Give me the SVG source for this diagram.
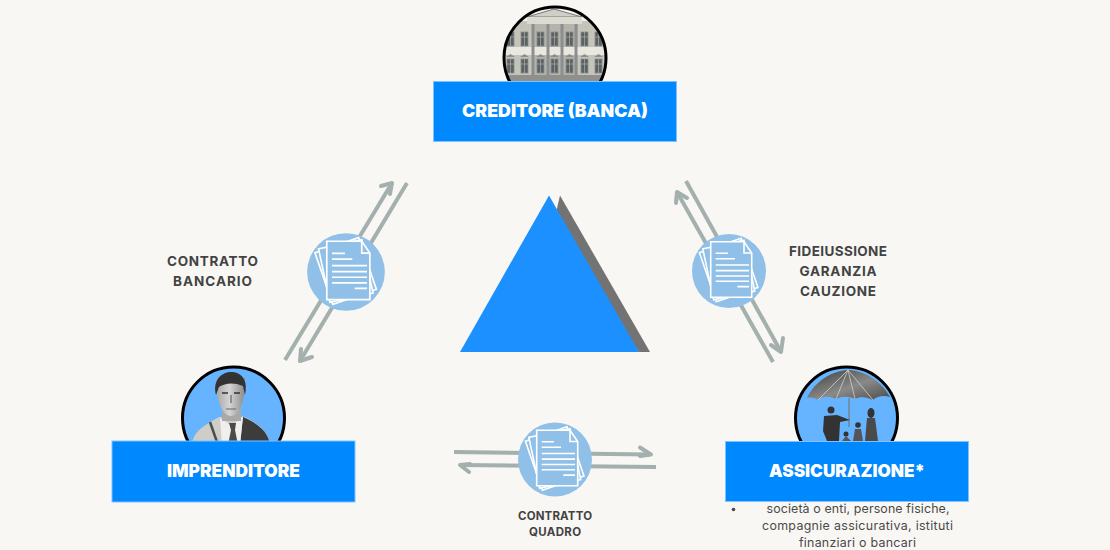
<svg xmlns="http://www.w3.org/2000/svg" width="1110" height="550" viewBox="0 0 1110 550">
<style>
.box{fill:#0088ff;stroke:#7fc2ff;stroke-width:1}
.boxt{font:900 18px Inter,"Liberation Sans",sans-serif;fill:#fff;text-anchor:middle}
.lab{font:700 13.5px Inter,"Liberation Sans",sans-serif;fill:#434343;text-anchor:middle}
.labs{font:700 11.5px Inter,"Liberation Sans",sans-serif;fill:#434343;text-anchor:middle}
.note{font:400 12.4px Inter,"Liberation Sans",sans-serif;fill:#4a4a4a;text-anchor:middle}
.ring{fill:none;stroke:#000;stroke-width:3}
.arr{fill:none;stroke:#a3b0ae;stroke-width:4;stroke-linecap:butt}
.head{fill:none;stroke:#a3b0ae;stroke-width:4;stroke-linecap:round;stroke-linejoin:round}
.pg{fill:#90c0e8;stroke:#fff;stroke-width:1.6}
.tl{stroke:#fff;stroke-width:1.6;fill:none}
.win{fill:#5a6266;stroke:#8b8c86;stroke-width:.8}
</style>
<defs>
<linearGradient id="canopy" x1="0" y1="0" x2="1" y2="1"><stop offset="0" stop-color="#3a3a3a"/><stop offset=".55" stop-color="#8a8a88"/><stop offset="1" stop-color="#4a4a4a"/></linearGradient>
<linearGradient id="face" x1="0" y1="0" x2="1" y2="0"><stop offset="0" stop-color="#a8a8a8"/><stop offset=".45" stop-color="#d4d4d4"/><stop offset="1" stop-color="#8a8a8a"/></linearGradient>
<clipPath id="cdoc"><circle r="37"/></clipPath>
<clipPath id="c1"><circle cx="555" cy="58" r="51"/></clipPath>
<clipPath id="c2"><circle cx="233.5" cy="418" r="51"/></clipPath>
<clipPath id="c3"><circle cx="846.5" cy="418" r="51"/></clipPath>
<g id="doc">
<circle r="37" fill="#90c0e8"/>
<g clip-path="url(#cdoc)">
<rect class="pg" x="-22" y="-27" width="44" height="52" transform="rotate(-19)"/>
<rect class="pg" x="-21" y="-27" width="42" height="52" transform="rotate(-12)"/>
</g>
<path class="pg" d="M-18.3-29.3H15L22.7-18V26.3H-18.3Z"/>
<path class="tl" d="M15-29.3V-18H22.7"/>
<path class="tl" d="M-13.3-17.7H-1M-13.3-12.3H6M-13.3-6H20M-13.3-.4H20M-13.3 5H20M-13.3 10.3H20M8.3 15.6H20"/>
</g>
<g id="w"><rect class="win" width="7" height="14"/><path d="M3.5 0V14M0 5H7" stroke="#b8b8b0" stroke-width=".6"/></g>
<path id="wp" d="M-1 0L3.5-3L8 0Z" fill="#8d8e88"/>
</defs>
<rect width="1110" height="550" fill="#f8f7f4"/>
<g id="triangle">
<path d="M560 195.5L650 352H639L552 230Z" fill="#737373"/>
<path d="M549 195.5L639 352H460Z" fill="#1c90ff"/>
</g>
<g id="connectors">
<path class="arr" d="M285 360L392 183"/><path class="head" d="M381 186L392 183L390 194"/>
<path class="arr" d="M407 183L300 361"/><path class="head" d="M312 357L300 361L301 349"/>
<path class="arr" d="M686 181L780.5 351"/><path class="head" d="M783 338L781 352L771 345"/>
<path class="arr" d="M773 362L677 192"/><path class="head" d="M676 203L677 192L687 198"/>
<path class="arr" d="M454 452L650 454.5"/><path class="head" d="M640 447.5L651 454.5L640 456"/>
<path class="arr" d="M656 467L460 465"/><path class="head" d="M469 472L460 465L470 464"/>
</g>
<g id="doc-left"><use href="#doc" transform="translate(346 272) scale(1.05)"/></g>
<g id="doc-right"><use href="#doc" transform="translate(729 271)"/></g>
<g id="doc-bottom"><use href="#doc" transform="translate(555 459.5)"/></g>
<g id="node-creditore">
<circle cx="555" cy="58" r="51" fill="#f4f3ee"/>
<g clip-path="url(#c1)">
<rect x="500" y="21" width="110" height="62" fill="#c4c4bb"/>
<rect x="532" y="17" width="46" height="64" fill="#b4b4ac"/>
<path d="M527 17L554 9L582 17Z" fill="#cfcfc8" stroke="#77787a" stroke-width="1"/>
<rect x="527" y="17" width="55" height="7" fill="#dcdbd2"/>
<rect x="500" y="47" width="110" height="8" fill="#e9e8e0"/>
<rect x="500" y="75" width="110" height="8" fill="#8f908c"/>
<path d="M533 24V76M548 24V76M562 24V76M576 24V76" stroke="#8c8f90" stroke-width="3"/>
<use href="#w" x="507" y="32"/><use href="#w" x="521" y="32"/><use href="#w" x="537" y="32"/><use href="#w" x="551" y="32"/><use href="#w" x="566" y="32"/><use href="#w" x="581" y="32"/><use href="#w" x="595" y="32"/>
<use href="#w" x="507" y="59"/><use href="#w" x="521" y="59"/><use href="#w" x="537" y="59"/><use href="#w" x="551" y="59"/><use href="#w" x="566" y="59"/><use href="#w" x="581" y="59"/><use href="#w" x="595" y="59"/>
<use href="#wp" x="507" y="57"/><use href="#wp" x="521" y="57"/><use href="#wp" x="537" y="57"/><use href="#wp" x="551" y="57"/><use href="#wp" x="566" y="57"/><use href="#wp" x="581" y="57"/><use href="#wp" x="595" y="57"/>
</g>
<circle class="ring" cx="555" cy="58" r="51"/>
<rect class="box" x="433.5" y="81.5" width="243" height="60"/>
<text class="boxt" x="555" y="117" textLength="186" lengthAdjust="spacingAndGlyphs">CREDITORE (BANCA)</text>
</g>
<g id="node-imprenditore">
<circle cx="233.5" cy="418" r="51" fill="#66b3ff"/>
<g clip-path="url(#c2)">
<path d="M192 445C193 431 205 425 219 417H245C258 424 268 430 270 445Z" fill="#cfcdc8"/>
<path d="M243 417C256 423 268 430 270 445H240Z" fill="#3c3c3c"/>
<path d="M220 418L232 426L243 416L240 445H222Z" fill="#f0efec"/>
<path d="M229 423H236L235 430L238 445H228L231 430Z" fill="#4a4a4a"/>
<path d="M210 422L217 442" stroke="#4e4e4e" stroke-width="2.5" fill="none"/>
<rect x="222" y="405" width="19" height="16" fill="#a9a9a9"/>
<path d="M217 378C215 398 222 416 231 416C240 416 246 398 245 378Z" fill="url(#face)"/>
<path d="M216 395C212 378 224 371 233 372C243 373 248 382 245 395L243 386C234 382 225 383 219 387Z" fill="#333"/>
<path d="M222 393H228M234 393H240" stroke="#333" stroke-width="1.6"/>
<path d="M231 395V403M226 409H236" stroke="#666" stroke-width="1.2"/>
</g>
<circle class="ring" cx="233.5" cy="418" r="51"/>
<rect class="box" x="112" y="441" width="243" height="61" stroke-width="0"/>
<text class="boxt" x="233.5" y="477" textLength="133" lengthAdjust="spacingAndGlyphs">IMPRENDITORE</text>
</g>
<g id="node-assicurazione">
<circle cx="846.5" cy="418" r="51" fill="#66b3ff"/>
<g clip-path="url(#c3)">
<path d="M807 398C815 381 832 371 848 370C866 371 882 382 890 397C884 395 877 396 873 400C867 397 860 396 855 399C849 396 842 396 836 399C830 396 822 396 818 400C815 398 811 397 807 398Z" fill="url(#canopy)"/>
<path d="M848 370L818 400M848 370L836 399M848 370L855 399M848 370L873 400" stroke="#d0d0d0" stroke-width=".8" fill="none"/>
<path d="M849 398V427" stroke="#777" stroke-width="1.2"/>
<circle cx="831" cy="410" r="3.5" fill="#333"/>
<path d="M824 416L837 415L850 420L840 422L839 441H827L823 431Z" fill="#333"/>
<ellipse cx="871" cy="413" rx="3.5" ry="5" fill="#333"/>
<path d="M867 418H875L878 441H865Z" fill="#4a4a4a"/>
<circle cx="858" cy="425" r="2.8" fill="#333"/>
<path d="M855 429H861L863 441H853Z" fill="#555"/>
<circle cx="846" cy="434" r="2.5" fill="#333"/>
<path d="M842 441L846 436L851 441Z" fill="#555"/>
</g>
<circle class="ring" cx="846.5" cy="418" r="51"/>
<rect class="box" x="725.5" y="441.5" width="243" height="60"/>
<text class="boxt" x="847" y="477" textLength="156" lengthAdjust="spacingAndGlyphs">ASSICURAZIONE*</text>
<circle cx="733.5" cy="509.5" r="1.8" fill="#4a4a4a"/>
<text class="note" x="858" y="513" textLength="183">società o enti, persone fisiche,</text>
<text class="note" x="857.5" y="530" textLength="191">compagnie assicurativa, istituti</text>
<text class="note" x="857.5" y="546.5" textLength="117">finanziari o bancari</text>
</g>
<g id="labels">
<text class="lab" x="212.5" y="266" textLength="91">CONTRATTO</text>
<text class="lab" x="212.5" y="286" textLength="79">BANCARIO</text>
<text class="lab" x="838" y="256" textLength="98">FIDEIUSSIONE</text>
<text class="lab" x="838" y="276" textLength="77">GARANZIA</text>
<text class="lab" x="838" y="296" textLength="76">CAUZIONE</text>
<text class="labs" x="555" y="520" textLength="74">CONTRATTO</text>
<text class="labs" x="555" y="536" textLength="52">QUADRO</text>
</g>
</svg>
